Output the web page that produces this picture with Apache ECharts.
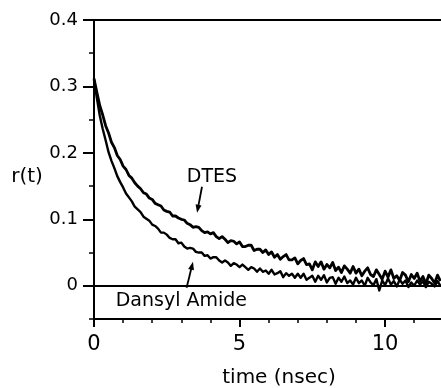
<!DOCTYPE html>
<html><head><meta charset="utf-8">
<script src="https://cdn.jsdelivr.net/npm/echarts@6/dist/echarts.min.js"></script>
<style>html,body{margin:0;padding:0;background:#fff}#c{width:441px;height:388px}</style>
</head><body><div id="c"></div>
<script>
const times=[
0,0.1,0.2,0.3,0.4,0.5,0.6,0.7,0.8,0.9,
1,1.1,1.2,1.3,1.4,1.5,1.6,1.7,1.8,1.9,
2,2.1,2.2,2.3,2.4,2.5,2.6,2.7,2.8,2.9,
3,3.1,3.2,3.3,3.4,3.5,3.6,3.7,3.8,3.9,
4,4.1,4.2,4.3,4.4,4.5,4.6,4.7,4.8,4.9,
5,5.1,5.2,5.3,5.4,5.5,5.6,5.7,5.8,5.9,
6,6.1,6.2,6.3,6.4,6.5,6.6,6.7,6.8,6.9,
7,7.1,7.2,7.3,7.4,7.5,7.6,7.7,7.8,7.9,
8,8.1,8.2,8.3,8.4,8.5,8.6,8.7,8.8,8.9,
9,9.1,9.2,9.3,9.4,9.5,9.6,9.7,9.8,9.9,
10,10.1,10.2,10.3,10.4,10.5,10.6,10.7,10.8,10.9,
11,11.1,11.2,11.3,11.4,11.5,11.6,11.7,11.8,11.9];
const dtes=[
0.312,0.291,0.271,0.257,0.241,0.230,0.216,0.208,0.196,0.190,
0.180,0.175,0.166,0.162,0.155,0.150,0.146,0.140,0.138,0.132,
0.130,0.124,0.122,0.120,0.114,0.112,0.111,0.105,0.105,0.102,
0.100,0.099,0.094,0.092,0.088,0.089,0.088,0.083,0.080,0.081,
0.078,0.080,0.074,0.071,0.074,0.070,0.065,0.068,0.067,0.063,
0.066,0.059,0.059,0.061,0.061,0.053,0.055,0.055,0.050,0.054,
0.047,0.051,0.043,0.047,0.040,0.044,0.047,0.039,0.039,0.042,
0.033,0.038,0.041,0.032,0.033,0.024,0.036,0.029,0.036,0.025,
0.032,0.027,0.035,0.023,0.028,0.020,0.030,0.025,0.019,0.029,
0.019,0.025,0.015,0.022,0.027,0.017,0.014,0.024,0.017,0.010,
0.022,0.013,0.024,0.011,0.015,0.008,0.020,0.016,0.006,0.017,
0.011,0.019,0.007,0.014,0.003,0.016,0.011,0.004,0.016,0.007];
const dansyl=[
0.310,0.282,0.256,0.236,0.219,0.201,0.188,0.177,0.165,0.156,
0.148,0.139,0.133,0.127,0.119,0.115,0.111,0.104,0.101,0.098,
0.092,0.090,0.086,0.080,0.080,0.077,0.072,0.070,0.070,0.064,
0.065,0.059,0.056,0.057,0.056,0.051,0.050,0.050,0.045,0.046,
0.041,0.043,0.043,0.038,0.035,0.038,0.035,0.030,0.034,0.032,
0.028,0.032,0.028,0.024,0.028,0.026,0.021,0.026,0.021,0.023,
0.018,0.024,0.017,0.019,0.022,0.013,0.019,0.015,0.018,0.012,
0.018,0.012,0.018,0.009,0.012,0.015,0.006,0.015,0.009,0.016,
0.005,0.012,0.013,0.003,0.012,0.006,0.014,0.004,0.008,0.002,
0.012,0.004,0.008,0.000,0.012,0.005,0.001,0.010,-0.007,0.008,
0.001,0.011,0.002,0.007,-0.001,0.009,0.003,0.008,-0.002,0.005,
0.000,0.008,0.002,0.007,-0.002,0.006,0.003,-0.001,0.007,0.000];
const xMajorTicks=[0,5,10];
const xMinorTicks=[1,2,3,4,6,7,8,9,11];
const yMajorTicks=[0,0.1,0.2,0.3,0.4];
const yMinorTicks=[-0.05,0.05,0.15,0.25,0.35];
const xLabel='time (nsec)';
const yLabel='r(t)';
const dtesLabel='DTES';
const dansylLabel='Dansyl Amide';
// annotation anchors in data coordinates [t, r]
const dtesTextAt=[4.05,0.164];
const dtesArrow=[[3.71,0.149],[3.54,0.110]];
const dansylTextAt=[3.0,-0.023];
const dansylArrow=[[3.18,-0.003],[3.40,0.036]];

const F='DejaVu Sans';
const chart=echarts.init(document.getElementById('c'),null,{renderer:'canvas'});
const pair=ys=>times.map((t,i)=>[t,ys[i]]);
const baseX={type:'value',min:0,max:11.92,splitLine:{show:false}};
const baseY={type:'value',min:-0.05,max:0.4,splitLine:{show:false}};
chart.setOption({
  animation:false,
  backgroundColor:'#fff',
  grid:{left:94,right:0,top:20,bottom:69,containLabel:false},
  xAxis:[
    Object.assign({},baseX,{position:'bottom',
      axisLine:{show:true,onZero:false,lineStyle:{color:'#000',width:2}},
      axisTick:{show:true,inside:false,length:8,lineStyle:{color:'#000',width:2},customValues:xMajorTicks},
      axisLabel:{show:true,customValues:xMajorTicks,color:'#000',fontSize:21,fontFamily:F,margin:15}}),
    Object.assign({},baseX,{position:'bottom',
      axisLine:{show:false,onZero:false},
      axisTick:{show:true,inside:false,length:4,lineStyle:{color:'#000',width:1.5},customValues:xMinorTicks},
      axisLabel:{show:false}}),
    Object.assign({},baseX,{position:'top',
      axisLine:{show:true,onZero:false,lineStyle:{color:'#000',width:2}},
      axisTick:{show:false},axisLabel:{show:false}})
  ],
  yAxis:[
    Object.assign({},baseY,{position:'left',
      axisLine:{show:true,onZero:false,lineStyle:{color:'#000',width:2}},
      axisTick:{show:true,inside:false,length:11,lineStyle:{color:'#000',width:2},customValues:yMajorTicks},
      axisLabel:{show:true,customValues:yMajorTicks,color:'#000',fontSize:18,fontFamily:F,margin:16,
        formatter:v=>Math.abs(v)<1e-9?'0':v.toFixed(1)}}),
    Object.assign({},baseY,{position:'left',
      axisLine:{show:false,onZero:false},
      axisTick:{show:true,inside:false,length:5,lineStyle:{color:'#000',width:1.5},customValues:yMinorTicks},
      axisLabel:{show:false}})
  ],
  series:[
    {type:'line',name:'DTES',xAxisIndex:0,yAxisIndex:0,data:pair(dtes),symbol:'none',
     lineStyle:{color:'#000',width:2.8,join:'round'},z:3,
     markLine:{silent:true,symbol:'none',label:{show:false},lineStyle:{color:'#000',width:2,type:'solid'},data:[{yAxis:0}]}},
    {type:'line',name:'Dansyl Amide',xAxisIndex:0,yAxisIndex:0,data:pair(dansyl),symbol:'none',
     lineStyle:{color:'#000',width:2.4,join:'round'},z:3}
  ]
});

function px(p){return chart.convertToPixel({xAxisIndex:0,yAxisIndex:0},p);}
function arrow(a){
  const p0=px(a[0]),p1=px(a[1]);
  const dx=p1[0]-p0[0],dy=p1[1]-p0[1],L=Math.hypot(dx,dy);
  const ux=dx/L,uy=dy/L,nx=-uy,ny=ux,h=8,w=3;
  return [
    {type:'line',shape:{x1:p0[0],y1:p0[1],x2:p1[0]-ux*h*0.6,y2:p1[1]-uy*h*0.6},style:{stroke:'#000',lineWidth:1.8},z:10},
    {type:'polygon',shape:{points:[[p1[0],p1[1]],[p1[0]-ux*h+nx*w,p1[1]-uy*h+ny*w],[p1[0]-ux*h-nx*w,p1[1]-uy*h-ny*w]]},style:{fill:'#000'},z:10}
  ];
}
const dt=px(dtesTextAt),dn=px(dansylTextAt);
chart.setOption({graphic:[
  {type:'text',x:dt[0],y:dt[1],style:{text:dtesLabel,fontSize:19,fontFamily:F,fill:'#000',align:'center',verticalAlign:'middle'},z:10},
  {type:'text',x:dn[0],y:dn[1],style:{text:dansylLabel,fontSize:19,fontFamily:F,fill:'#000',align:'center',verticalAlign:'middle'},z:10},
  ...arrow(dtesArrow),
  ...arrow(dansylArrow),
  {type:'text',x:279,y:378,style:{text:xLabel,fontSize:20,fontFamily:F,fill:'#000',align:'center',verticalAlign:'middle'},z:10},
  {type:'text',x:27,y:177,style:{text:yLabel,fontSize:20,fontFamily:F,fill:'#000',align:'center',verticalAlign:'middle'},z:10}
]});
</script></body></html>
